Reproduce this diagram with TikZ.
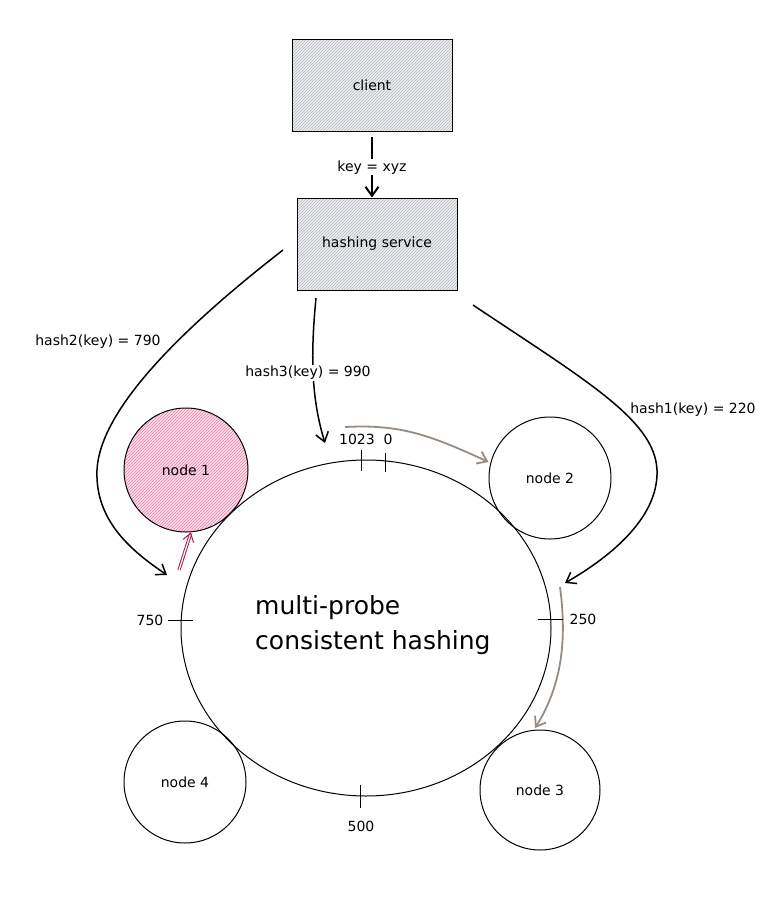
\documentclass[tikz,border=0pt]{standalone}
\usepackage{fontspec}
\setmainfont{DejaVu Sans}
\usetikzlibrary{arrows.meta,patterns,shapes.geometric}
\definecolor{hatchgray}{RGB}{180,185,192}
\definecolor{boxbg}{RGB}{238,239,241}
\definecolor{pinkhatch}{RGB}{238,125,165}
\definecolor{pinkbg}{RGB}{252,225,236}
\definecolor{crimson}{RGB}{166,30,77}
\definecolor{warmgray}{RGB}{150,140,130}
\begin{document}
\begin{tikzpicture}[x=1pt,y=-1pt,
  lbl/.style={font=\fontsize{14}{16}\selectfont, inner sep=1pt},
  boxnode/.style={draw=black, line width=1pt, preaction={fill=boxbg}, pattern=north east lines, pattern color=hatchgray, minimum width=160pt, minimum height=92pt, font=\fontsize{14}{16}\selectfont},
  ring/.style={circle, draw=black, line width=1pt, inner sep=0pt, font=\fontsize{14}{16}\selectfont},
  arr/.style={line width=1.5pt, -{Straight Barb[length=9pt,width=13pt]}},
  grayarr/.style={line width=1.8pt, draw=warmgray, -{Straight Barb[length=9pt,width=13pt]}},
  tick/.style={line width=1pt},
]
\useasboundingbox (0,0) rectangle (781,898);

% boxes
\node[boxnode] (client) at (372,85.5) {client};
\node[boxnode] (hs) at (377,244) {hashing service};

% big ring
\node[ellipse, draw=black, line width=1pt, inner sep=0pt, minimum width=370pt, minimum height=336pt] (ring) at (366,628) {};
\node[font=\fontsize{25}{35}\selectfont, align=left, anchor=west, inner sep=0pt] (title) at (255,625) {multi-probe\\consistent hashing};

% server nodes
\node[ring, minimum size=124pt, preaction={fill=pinkbg}, pattern=north east lines, pattern color=pinkhatch] (n1) at (186,470) {node 1};
\node[ring, minimum size=122pt] (n2) at (550,478) {node 2};
\node[ring, minimum size=120pt] (n3) at (540,790) {node 3};
\node[ring, minimum size=122pt] (n4) at (185,782) {node 4};

% client -> hashing service
\coordinate (cs) at ([yshift=-5pt]client.south);
\draw[arr, line width=2pt] (cs) -- (cs |- hs.north) node[midway, fill=white, lbl] (keylbl) {key = xyz};

% hash arrows
\coordinate (h2s) at (283,250);
\coordinate (h2e) at (167,575);
\draw[arr] (h2s) .. controls (180,330) and (100,410) .. (97,470) .. controls (95,520) and (130,550) .. (h2e);
\node[lbl] (h2lbl) at (98,342) {hash2(key) = 790};

\coordinate (h3s) at (316,298);
\coordinate (h3e) at (325,443);
\draw[arr] (h3s) .. controls (310,360) and (312,400) .. (h3e);
\node[lbl, fill=white] (h3lbl) at (308,373) {hash3(key) = 990};

\coordinate (h1s) at (473,305);
\coordinate (h1e) at (565,583);
\draw[arr] (h1s) .. controls (585,380) and (655,420) .. (657,470) .. controls (659,520) and (605,560) .. (h1e);
\node[lbl] (h1lbl) at (693,410) {hash1(key) = 220};

% probe arrows
\coordinate (g1s) at (345,427);
\draw[grayarr] (g1s) .. controls (400,424) and (430,435) .. (n2.west |- 0,462);
\coordinate (g2s) at (560,587);
\coordinate (g2e) at (535,728);
\draw[grayarr] (g2s) .. controls (567,640) and (562,685) .. (g2e);

\coordinate (p1s) at (179,570);
\draw[line width=1pt, draw=crimson, double=white, double distance=1.2pt, -{Straight Barb[length=8pt,width=11pt]}] (p1s) -- (n1.south -| 191,0);

% ticks and labels
\draw[tick] (361,450) -- (361,471);
\node[lbl] (l1023) at (357,439) {1023};
\draw[tick] (385,453) -- (385,472);
\node[lbl] (l0) at (388,439) {0};
\draw[tick] (168,620) -- (193,620);
\node[lbl] (l750) at (150,620) {750};
\draw[tick] (538,619) -- (563,619);
\node[lbl] (l250) at (583,619) {250};
\draw[tick] (360,785) -- (360,808);
\node[lbl] (l500) at (361,826) {500};
\end{tikzpicture}
\end{document}
